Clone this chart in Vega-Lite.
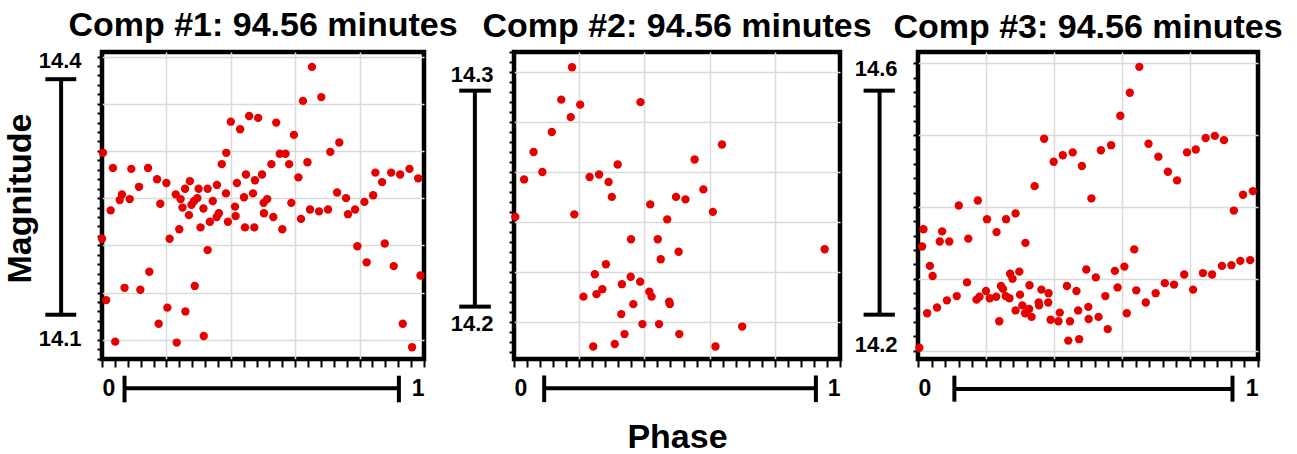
{
  "$schema": "https://vega.github.io/schema/vega-lite/v6.json",
  "padding": {"left": 0, "top": 6, "right": 5, "bottom": 5},
  "background": "white",
  "config": {
    "font": "Liberation Sans",
    "view": {"stroke": "black", "strokeWidth": 4.5},
    "axis": {
      "domain": false,
      "grid": true,
      "gridColor": "#dadada",
      "gridWidth": 1.5,
      "ticks": true,
      "tickColor": "black",
      "tickWidth": 2,
      "labelFont": "Liberation Sans",
      "labelFontSize": 22,
      "labelFontWeight": "bold",
      "labelColor": "black",
      "titleFont": "Liberation Sans",
      "titleFontSize": 34,
      "titleFontWeight": "bold",
      "titleColor": "black"
    },
    "axisX": {"tickSize": 8, "labelPadding": 10, "labelFlush": true, "labelFontSize": 23},
    "axisY": {"tickSize": 5, "labelPadding": 16, "labelBaseline": "middle"},
    "title": {"fontSize": 34, "fontWeight": "bold", "color": "black", "anchor": "middle", "frame": "group", "offset": 7, "baseline": "alphabetic"}
  },
  "datasets": {
    "comp1": [
      {"phase":0.003,"mag":14.298},{"phase":0.0,"mag":14.207},{"phase":0.013,"mag":14.142},{"phase":0.034,"mag":14.282},{"phase":0.027,"mag":14.237},{"phase":0.041,"mag":14.098},{"phase":0.055,"mag":14.248},{"phase":0.062,"mag":14.254},{"phase":0.070,"mag":14.155},{"phase":0.086,"mag":14.249},{"phase":0.091,"mag":14.281},{"phase":0.115,"mag":14.262},{"phase":0.119,"mag":14.153},{"phase":0.143,"mag":14.282},{"phase":0.147,"mag":14.172},{"phase":0.171,"mag":14.270},{"phase":0.181,"mag":14.244},{"phase":0.176,"mag":14.117},{"phase":0.200,"mag":14.266},{"phase":0.203,"mag":14.134},{"phase":0.210,"mag":14.207},{"phase":0.229,"mag":14.254},{"phase":0.232,"mag":14.097},{"phase":0.240,"mag":14.217},{"phase":0.244,"mag":14.249},{"phase":0.250,"mag":14.240},{"phase":0.258,"mag":14.260},{"phase":0.259,"mag":14.130},{"phase":0.270,"mag":14.232},{"phase":0.273,"mag":14.268},{"phase":0.278,"mag":14.243},{"phase":0.286,"mag":14.247},{"phase":0.288,"mag":14.157},{"phase":0.296,"mag":14.250},{"phase":0.300,"mag":14.260},{"phase":0.306,"mag":14.219},{"phase":0.315,"mag":14.239},{"phase":0.316,"mag":14.104},{"phase":0.328,"mag":14.260},{"phase":0.328,"mag":14.195},{"phase":0.335,"mag":14.225},{"phase":0.344,"mag":14.247},{"phase":0.357,"mag":14.264},{"phase":0.356,"mag":14.230},{"phase":0.363,"mag":14.234},{"phase":0.372,"mag":14.286},{"phase":0.385,"mag":14.255},{"phase":0.386,"mag":14.298},{"phase":0.391,"mag":14.225},{"phase":0.400,"mag":14.331},{"phase":0.413,"mag":14.241},{"phase":0.415,"mag":14.231},{"phase":0.419,"mag":14.266},{"phase":0.429,"mag":14.323},{"phase":0.441,"mag":14.251},{"phase":0.444,"mag":14.219},{"phase":0.447,"mag":14.275},{"phase":0.457,"mag":14.337},{"phase":0.469,"mag":14.255},{"phase":0.473,"mag":14.219},{"phase":0.475,"mag":14.269},{"phase":0.485,"mag":14.335},{"phase":0.497,"mag":14.275},{"phase":0.502,"mag":14.245},{"phase":0.503,"mag":14.234},{"phase":0.513,"mag":14.249},{"phase":0.526,"mag":14.286},{"phase":0.532,"mag":14.230},{"phase":0.541,"mag":14.330},{"phase":0.552,"mag":14.297},{"phase":0.560,"mag":14.217},{"phase":0.570,"mag":14.297},{"phase":0.581,"mag":14.286},{"phase":0.588,"mag":14.245},{"phase":0.596,"mag":14.317},{"phase":0.610,"mag":14.272},{"phase":0.618,"mag":14.228},{"phase":0.624,"mag":14.353},{"phase":0.638,"mag":14.288},{"phase":0.646,"mag":14.238},{"phase":0.652,"mag":14.389},{"phase":0.674,"mag":14.236},{"phase":0.681,"mag":14.357},{"phase":0.702,"mag":14.238},{"phase":0.709,"mag":14.299},{"phase":0.730,"mag":14.256},{"phase":0.737,"mag":14.309},{"phase":0.758,"mag":14.250},{"phase":0.764,"mag":14.233},{"phase":0.786,"mag":14.238},{"phase":0.793,"mag":14.199},{"phase":0.815,"mag":14.246},{"phase":0.822,"mag":14.182},{"phase":0.842,"mag":14.253},{"phase":0.849,"mag":14.277},{"phase":0.870,"mag":14.267},{"phase":0.878,"mag":14.202},{"phase":0.898,"mag":14.277},{"phase":0.906,"mag":14.178},{"phase":0.926,"mag":14.275},{"phase":0.934,"mag":14.117},{"phase":0.955,"mag":14.281},{"phase":0.963,"mag":14.092},{"phase":0.982,"mag":14.271},{"phase":0.989,"mag":14.168}
    ],
    "comp2": [
      {"phase":0.178,"mag":14.302},{"phase":0.145,"mag":14.289},{"phase":0.203,"mag":14.287},{"phase":0.174,"mag":14.282},{"phase":0.388,"mag":14.288},{"phase":0.116,"mag":14.276},{"phase":0.060,"mag":14.268},{"phase":0.087,"mag":14.260},{"phase":0.031,"mag":14.257},{"phase":0.004,"mag":14.242},{"phase":0.185,"mag":14.243},{"phase":0.318,"mag":14.263},{"phase":0.232,"mag":14.258},{"phase":0.261,"mag":14.259},{"phase":0.290,"mag":14.256},{"phase":0.300,"mag":14.250},{"phase":0.638,"mag":14.271},{"phase":0.554,"mag":14.265},{"phase":0.581,"mag":14.253},{"phase":0.497,"mag":14.250},{"phase":0.526,"mag":14.249},{"phase":0.418,"mag":14.247},{"phase":0.610,"mag":14.244},{"phase":0.470,"mag":14.241},{"phase":0.359,"mag":14.233},{"phase":0.441,"mag":14.233},{"phase":0.505,"mag":14.228},{"phase":0.953,"mag":14.229},{"phase":0.450,"mag":14.225},{"phase":0.282,"mag":14.223},{"phase":0.248,"mag":14.219},{"phase":0.358,"mag":14.218},{"phase":0.387,"mag":14.216},{"phase":0.331,"mag":14.215},{"phase":0.271,"mag":14.213},{"phase":0.253,"mag":14.211},{"phase":0.213,"mag":14.210},{"phase":0.415,"mag":14.212},{"phase":0.422,"mag":14.210},{"phase":0.366,"mag":14.207},{"phase":0.476,"mag":14.208},{"phase":0.478,"mag":14.207},{"phase":0.329,"mag":14.203},{"phase":0.394,"mag":14.199},{"phase":0.445,"mag":14.199},{"phase":0.700,"mag":14.198},{"phase":0.339,"mag":14.195},{"phase":0.507,"mag":14.195},{"phase":0.243,"mag":14.190},{"phase":0.309,"mag":14.191},{"phase":0.618,"mag":14.190}
    ],
    "comp3": [
      {"phase":0.004,"mag":14.204},{"phase":0.012,"mag":14.345},{"phase":0.016,"mag":14.369},{"phase":0.035,"mag":14.318},{"phase":0.043,"mag":14.304},{"phase":0.027,"mag":14.252},{"phase":0.056,"mag":14.260},{"phase":0.064,"mag":14.352},{"phase":0.071,"mag":14.366},{"phase":0.092,"mag":14.352},{"phase":0.085,"mag":14.270},{"phase":0.114,"mag":14.276},{"phase":0.120,"mag":14.402},{"phase":0.144,"mag":14.295},{"phase":0.148,"mag":14.356},{"phase":0.172,"mag":14.271},{"phase":0.181,"mag":14.275},{"phase":0.176,"mag":14.409},{"phase":0.200,"mag":14.283},{"phase":0.203,"mag":14.383},{"phase":0.211,"mag":14.273},{"phase":0.230,"mag":14.275},{"phase":0.231,"mag":14.365},{"phase":0.239,"mag":14.241},{"phase":0.244,"mag":14.290},{"phase":0.250,"mag":14.286},{"phase":0.258,"mag":14.276},{"phase":0.259,"mag":14.383},{"phase":0.269,"mag":14.273},{"phase":0.271,"mag":14.307},{"phase":0.278,"mag":14.300},{"phase":0.287,"mag":14.391},{"phase":0.287,"mag":14.256},{"phase":0.298,"mag":14.310},{"phase":0.300,"mag":14.278},{"phase":0.307,"mag":14.263},{"phase":0.316,"mag":14.350},{"phase":0.315,"mag":14.252},{"phase":0.327,"mag":14.258},{"phase":0.328,"mag":14.291},{"phase":0.334,"mag":14.247},{"phase":0.343,"mag":14.429},{"phase":0.355,"mag":14.267},{"phase":0.356,"mag":14.263},{"phase":0.363,"mag":14.285},{"phase":0.371,"mag":14.495},{"phase":0.383,"mag":14.267},{"phase":0.384,"mag":14.280},{"phase":0.390,"mag":14.243},{"phase":0.399,"mag":14.463},{"phase":0.413,"mag":14.241},{"phase":0.417,"mag":14.253},{"phase":0.426,"mag":14.472},{"phase":0.438,"mag":14.290},{"phase":0.442,"mag":14.214},{"phase":0.447,"mag":14.241},{"phase":0.455,"mag":14.476},{"phase":0.466,"mag":14.283},{"phase":0.471,"mag":14.256},{"phase":0.474,"mag":14.216},{"phase":0.482,"mag":14.457},{"phase":0.495,"mag":14.313},{"phase":0.501,"mag":14.261},{"phase":0.502,"mag":14.244},{"phase":0.510,"mag":14.412},{"phase":0.523,"mag":14.302},{"phase":0.531,"mag":14.247},{"phase":0.538,"mag":14.479},{"phase":0.551,"mag":14.276},{"phase":0.558,"mag":14.230},{"phase":0.568,"mag":14.486},{"phase":0.579,"mag":14.311},{"phase":0.587,"mag":14.288},{"phase":0.595,"mag":14.527},{"phase":0.607,"mag":14.317},{"phase":0.614,"mag":14.252},{"phase":0.623,"mag":14.559},{"phase":0.636,"mag":14.341},{"phase":0.642,"mag":14.284},{"phase":0.651,"mag":14.595},{"phase":0.670,"mag":14.267},{"phase":0.678,"mag":14.488},{"phase":0.699,"mag":14.280},{"phase":0.707,"mag":14.470},{"phase":0.726,"mag":14.294},{"phase":0.735,"mag":14.449},{"phase":0.753,"mag":14.292},{"phase":0.762,"mag":14.437},{"phase":0.783,"mag":14.306},{"phase":0.791,"mag":14.476},{"phase":0.809,"mag":14.285},{"phase":0.817,"mag":14.480},{"phase":0.838,"mag":14.308},{"phase":0.846,"mag":14.496},{"phase":0.865,"mag":14.306},{"phase":0.873,"mag":14.499},{"phase":0.894,"mag":14.318},{"phase":0.900,"mag":14.493},{"phase":0.922,"mag":14.319},{"phase":0.929,"mag":14.395},{"phase":0.948,"mag":14.325},{"phase":0.956,"mag":14.417},{"phase":0.977,"mag":14.326},{"phase":0.985,"mag":14.422}
    ],
    "bars": [
      {"comp":1,"phase":-0.127,"mag":14.1265,"phase2":-0.127,"mag2":14.376},
      {"comp":1,"phase":-0.176,"mag":14.376,"phase2":-0.080,"mag2":14.376},
      {"comp":1,"phase":-0.176,"mag":14.1265,"phase2":-0.080,"mag2":14.1265},
      {"comp":1,"phase":0.070,"mag":14.0485,"phase2":0.922,"mag2":14.0485},
      {"comp":1,"phase":0.070,"mag":14.0337,"phase2":0.070,"mag2":14.0619},
      {"comp":1,"phase":0.922,"mag":14.0337,"phase2":0.922,"mag2":14.0619},
      {"comp":2,"phase":-0.120,"mag":14.206,"phase2":-0.120,"mag2":14.2926},
      {"comp":2,"phase":-0.168,"mag":14.2926,"phase2":-0.071,"mag2":14.2926},
      {"comp":2,"phase":-0.168,"mag":14.206,"phase2":-0.071,"mag2":14.206},
      {"comp":2,"phase":0.0926,"mag":14.1733,"phase2":0.926,"mag2":14.1733},
      {"comp":2,"phase":0.0926,"mag":14.1677,"phase2":0.0926,"mag2":14.1784},
      {"comp":2,"phase":0.926,"mag":14.1677,"phase2":0.926,"mag2":14.1784},
      {"comp":3,"phase":-0.113,"mag":14.2501,"phase2":-0.113,"mag2":14.5619},
      {"comp":3,"phase":-0.160,"mag":14.5619,"phase2":-0.068,"mag2":14.5619},
      {"comp":3,"phase":-0.160,"mag":14.2501,"phase2":-0.068,"mag2":14.2501},
      {"comp":3,"phase":0.107,"mag":14.1467,"phase2":0.925,"mag2":14.1467},
      {"comp":3,"phase":0.107,"mag":14.129,"phase2":0.107,"mag2":14.1652},
      {"comp":3,"phase":0.925,"mag":14.129,"phase2":0.925,"mag2":14.1652}
    ]
  },
  "bounds": "flush",
  "spacing": 0,
  "hconcat": [
    {
      "width": 322,
      "height": 307,
      "title": {"text": "Comp #1: 94.56 minutes"},
      "encoding": {
        "x": {
          "field": "phase", "type": "quantitative",
          "scale": {"domain": [0, 1], "nice": false, "zero": false},
          "axis": {
            "title": null,
            "values": [0,0.04,0.08,0.12,0.16,0.2,0.24,0.28,0.32,0.36,0.4,0.44,0.48,0.52,0.56,0.6,0.64,0.68,0.72,0.76,0.8,0.84,0.88,0.92,0.96,1],
            "labelExpr": "datum.value == 0 ? '0' : (datum.value == 1 ? '1' : '')",
            "gridOpacity": {"condition": {"test": "abs(datum.value*5 - round(datum.value*5)) < 0.001 && datum.value > 0.01 && datum.value < 0.99", "value": 1}, "value": 0}
          }
        },
        "y": {
          "field": "mag", "type": "quantitative",
          "scale": {"domain": [14.0796, 14.4048], "nice": false, "zero": false},
          "axis": {
            "title": "Magnitude",
            "titlePadding": 1,
            "titleY": 146,
            "values": [14.08,14.09,14.1,14.11,14.12,14.13,14.14,14.15,14.16,14.17,14.18,14.19,14.2,14.21,14.22,14.23,14.24,14.25,14.26,14.27,14.28,14.29,14.3,14.31,14.32,14.33,14.34,14.35,14.36,14.37,14.38,14.39,14.4],
            "labelExpr": "abs(datum.value - 14.1) < 0.001 ? '14.1' : (abs(datum.value - 14.4) < 0.001 ? '14.4' : '')",
            "labelOffset": {"condition": {"test": "abs(datum.value - 14.4) < 0.001", "value": 4}, "value": -1},
            "gridOpacity": {"condition": {"test": "abs(datum.value*20 - round(datum.value*20)) < 0.001", "value": 1}, "value": 0}
          }
        }
      },
      "layer": [
        {"data": {"name": "comp1"}, "mark": {"type": "circle", "size": 70, "color": "#e60000", "opacity": 1}},
        {
          "data": {"name": "bars"},
          "transform": [{"filter": "datum.comp == 1"}],
          "mark": {"type": "rule", "color": "black", "strokeWidth": 4},
          "encoding": {"x2": {"field": "phase2"}, "y2": {"field": "mag2"}}
        }
      ]
    },
    {
      "width": 90, "height": 307,
      "data": {"values": []},
      "mark": {"type": "point", "opacity": 0},
      "view": {"stroke": null}
    },
    {
      "width": 326,
      "height": 307,
      "title": {"text": "Comp #2: 94.56 minutes"},
      "encoding": {
        "x": {
          "field": "phase", "type": "quantitative",
          "scale": {"domain": [0, 1], "nice": false, "zero": false},
          "axis": {
            "title": "Phase",
            "titlePadding": 20,
            "values": [0,0.04,0.08,0.12,0.16,0.2,0.24,0.28,0.32,0.36,0.4,0.44,0.48,0.52,0.56,0.6,0.64,0.68,0.72,0.76,0.8,0.84,0.88,0.92,0.96,1],
            "labelExpr": "datum.value == 0 ? '0' : (datum.value == 1 ? '1' : '')",
            "gridOpacity": {"condition": {"test": "abs(datum.value*5 - round(datum.value*5)) < 0.001 && datum.value > 0.01 && datum.value < 0.99", "value": 1}, "value": 0}
          }
        },
        "y": {
          "field": "mag", "type": "quantitative",
          "scale": {"domain": [14.185, 14.3081], "nice": false, "zero": false},
          "axis": {
            "title": null,
            "values": [14.188,14.192,14.196,14.2,14.204,14.208,14.212,14.216,14.22,14.224,14.228,14.232,14.236,14.24,14.244,14.248,14.252,14.256,14.26,14.264,14.268,14.272,14.276,14.28,14.284,14.288,14.292,14.296,14.3,14.304,14.308],
            "labelExpr": "abs(datum.value - 14.2) < 0.0005 ? '14.2' : (abs(datum.value - 14.3) < 0.0005 ? '14.3' : '')",
            "labelOffset": 2,
            "gridOpacity": {"condition": {"test": "abs(datum.value*50 - round(datum.value*50)) < 0.001", "value": 1}, "value": 0}
          }
        }
      },
      "layer": [
        {"data": {"name": "comp2"}, "mark": {"type": "circle", "size": 70, "color": "#e60000", "opacity": 1}},
        {
          "data": {"name": "bars"},
          "transform": [{"filter": "datum.comp == 2"}],
          "mark": {"type": "rule", "color": "black", "strokeWidth": 4},
          "encoding": {"x2": {"field": "phase2"}, "y2": {"field": "mag2"}}
        }
      ]
    },
    {
      "width": 78, "height": 307,
      "data": {"values": []},
      "mark": {"type": "point", "opacity": 0},
      "view": {"stroke": null}
    },
    {
      "width": 340,
      "height": 307,
      "title": {"text": "Comp #3: 94.56 minutes"},
      "encoding": {
        "x": {
          "field": "phase", "type": "quantitative",
          "scale": {"domain": [0, 1], "nice": false, "zero": false},
          "axis": {
            "title": null,
            "values": [0,0.04,0.08,0.12,0.16,0.2,0.24,0.28,0.32,0.36,0.4,0.44,0.48,0.52,0.56,0.6,0.64,0.68,0.72,0.76,0.8,0.84,0.88,0.92,0.96,1],
            "labelExpr": "datum.value == 0 ? '0' : (datum.value == 1 ? '1' : '')",
            "gridOpacity": {"condition": {"test": "abs(datum.value*5 - round(datum.value*5)) < 0.001 && datum.value > 0.01 && datum.value < 0.99", "value": 1}, "value": 0}
          }
        },
        "y": {
          "field": "mag", "type": "quantitative",
          "scale": {"domain": [14.1884, 14.6157], "nice": false, "zero": false},
          "axis": {
            "title": null,
            "values": [14.2,14.22,14.24,14.26,14.28,14.3,14.32,14.34,14.36,14.38,14.4,14.42,14.44,14.46,14.48,14.5,14.52,14.54,14.56,14.58,14.6],
            "labelExpr": "abs(datum.value - 14.2) < 0.001 ? '14.2' : (abs(datum.value - 14.6) < 0.001 ? '14.6' : '')",
            "labelOffset": {"condition": {"test": "abs(datum.value - 14.6) < 0.001", "value": 5}, "value": -6},
            "gridOpacity": {"condition": {"test": "abs(datum.value*10 - round(datum.value*10)) < 0.001", "value": 1}, "value": 0}
          }
        }
      },
      "layer": [
        {"data": {"name": "comp3"}, "mark": {"type": "circle", "size": 70, "color": "#e60000", "opacity": 1}},
        {
          "data": {"name": "bars"},
          "transform": [{"filter": "datum.comp == 3"}],
          "mark": {"type": "rule", "color": "black", "strokeWidth": 4},
          "encoding": {"x2": {"field": "phase2"}, "y2": {"field": "mag2"}}
        }
      ]
    }
  ]
}
